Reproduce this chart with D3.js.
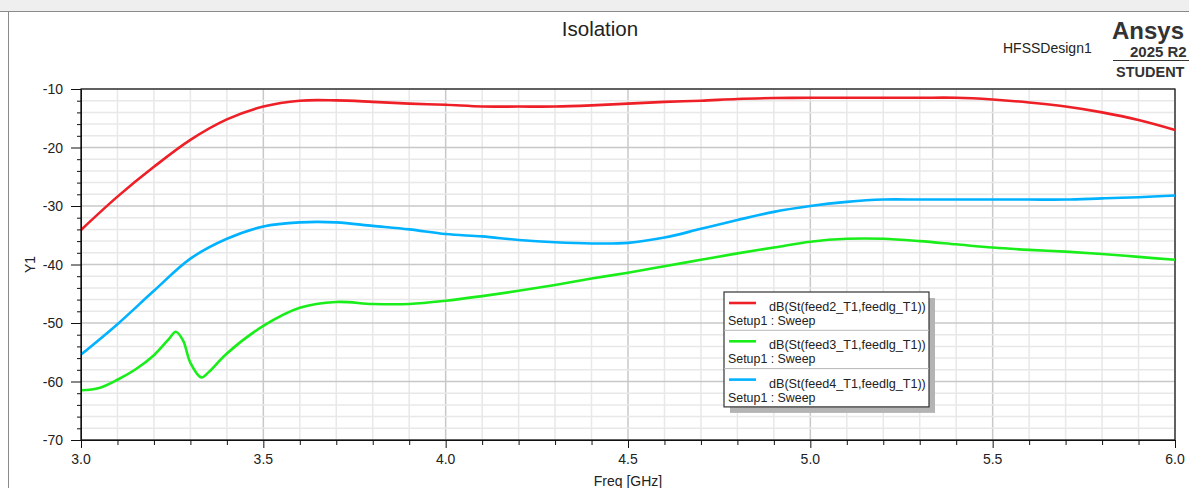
<!DOCTYPE html>
<html>
<head>
<meta charset="utf-8">
<script src="https://cdn.jsdelivr.net/npm/d3@7"></script>
<style>
  body { margin: 0; background: #fff; overflow: hidden; }
  text { font-family: Arial, "Liberation Sans", sans-serif; fill: #222; }
</style>
</head>
<body>
<div id="chart"></div>
<script>
// frequency grid (GHz)
const freqs = [3.0, 3.1, 3.2, 3.3, 3.4, 3.5, 3.6, 3.7, 3.8, 3.9, 4.0, 4.1, 4.2, 4.3, 4.4, 4.5,
  4.6, 4.7, 4.8, 4.9, 5.0, 5.1, 5.2, 5.3, 5.4, 5.5, 5.6, 5.7, 5.8, 5.9, 6.0];

// dB(St(feed2_T1,feedlg_T1))
const feed2 = [-34.1, -28.4, -23.3, -18.7, -15.2, -13.0, -12.0, -11.95, -12.2, -12.5, -12.7, -13.0, -13.0, -13.0, -12.8, -12.5,
  -12.2, -12.0, -11.7, -11.55, -11.5, -11.5, -11.5, -11.5, -11.5, -11.8, -12.3, -13.0, -14.0, -15.3, -17.0];

// dB(St(feed4_T1,feedlg_T1))
const feed4 = [-55.4, -50.2, -44.5, -39.0, -35.6, -33.5, -32.8, -32.8, -33.4, -34.0, -34.8, -35.2, -35.8, -36.2, -36.4, -36.3,
  -35.4, -33.9, -32.4, -31.0, -30.0, -29.3, -28.9, -28.9, -28.9, -28.9, -28.9, -28.9, -28.7, -28.5, -28.2];

// dB(St(feed3_T1,feedlg_T1)) - finer sampling around the dip
const freqs3 = [3.0, 3.05, 3.1, 3.15, 3.2, 3.24, 3.26, 3.28, 3.3, 3.33, 3.35, 3.4, 3.5, 3.6, 3.7, 3.8, 3.9, 4.0,
  4.1, 4.2, 4.3, 4.4, 4.5, 4.6, 4.7, 4.8, 4.9, 5.0, 5.1, 5.2, 5.3, 5.4, 5.5, 5.6, 5.7, 5.8, 5.9, 6.0];
const feed3 = [-61.5, -61.1, -59.7, -57.9, -55.5, -52.8, -51.5, -53.0, -56.8, -59.3, -58.4, -55.2, -50.5, -47.4, -46.4, -46.75, -46.75, -46.2,
  -45.4, -44.5, -43.5, -42.4, -41.4, -40.3, -39.2, -38.1, -37.1, -36.1, -35.6, -35.6, -36.0, -36.55, -37.1, -37.5, -37.8, -38.2, -38.7, -39.2];

const series = [
  {name: "dB(St(feed2_T1,feedlg_T1))", x: freqs, y: feed2, color: "#ee1f26"},
  {name: "dB(St(feed3_T1,feedlg_T1))", x: freqs3, y: feed3, color: "#1aee1a"},
  {name: "dB(St(feed4_T1,feedlg_T1))", x: freqs, y: feed4, color: "#00b2ff"}
];

const xMajor = [3.0, 3.5, 4.0, 4.5, 5.0, 5.5, 6.0];
const yMajor = [-10, -20, -30, -40, -50, -60, -70];

const W = 1189, H = 488;
const margin = {top: 89, right: 14, bottom: 48, left: 81};

const svg = d3.select("#chart").append("svg")
  .attr("width", W).attr("height", H);

// window frame
svg.append("rect").attr("x", 0).attr("y", 0).attr("width", W).attr("height", 11).attr("fill", "#efefef");
svg.append("line").attr("x1", 0).attr("x2", W).attr("y1", 11.5).attr("y2", 11.5).attr("stroke", "#8a8a8a");
svg.append("line").attr("x1", 8.5).attr("x2", 8.5).attr("y1", 11).attr("y2", H).attr("stroke", "#8a8a8a");

const x = d3.scaleLinear().domain([3, 6]).range([margin.left, W - margin.right]);
const y = d3.scaleLinear().domain([-70, -10]).range([H - margin.bottom, margin.top]);

const plot = svg.append("g");

// grid lines
const xMinor = d3.range(30, 61).map(d => d / 10);
const yMinor = d3.range(-70, -9, 2);
plot.selectAll(".gx").data(xMinor).join("line")
  .attr("x1", d => x(d)).attr("x2", d => x(d))
  .attr("y1", y(-70)).attr("y2", y(-10))
  .attr("stroke", d => xMajor.some(m => Math.abs(m - d) < 1e-6) ? "#c8c8c8" : "#e8e8e8")
  .attr("stroke-width", 1.5);
plot.selectAll(".gy").data(yMinor).join("line")
  .attr("x1", x(3)).attr("x2", x(6))
  .attr("y1", d => y(d)).attr("y2", d => y(d))
  .attr("stroke", d => d % 10 === 0 ? "#c8c8c8" : "#e8e8e8")
  .attr("stroke-width", 1.5);

// plot border
plot.append("rect")
  .attr("x", x(3)).attr("y", y(-10))
  .attr("width", x(6) - x(3)).attr("height", y(-70) - y(-10))
  .attr("fill", "none").attr("stroke", "#111").attr("stroke-width", 1.2);

// y axis
const yAxis = svg.append("g").attr("transform", `translate(${x(3)},0)`)
  .call(d3.axisLeft(y).tickValues(yMinor).tickSize(4).tickFormat(""));
yAxis.select(".domain").attr("stroke", "#111");
yAxis.selectAll(".tick line").attr("stroke", "#111")
  .attr("x2", d => d % 10 === 0 ? -10 : -4);
svg.append("g").selectAll("text").data(yMajor).join("text")
  .attr("x", 63).attr("y", d => y(d) + 5)
  .attr("text-anchor", "end").attr("font-size", 14)
  .text(d => d);

// x axis
const xAxis = svg.append("g").attr("transform", `translate(0,${y(-70)})`)
  .call(d3.axisBottom(x).tickValues(xMinor).tickSize(5).tickFormat(""));
xAxis.select(".domain").attr("stroke", "#111");
xAxis.selectAll(".tick line").attr("stroke", "#111")
  .attr("y2", d => xMajor.some(m => Math.abs(m - d) < 1e-6) ? 8 : 5);
svg.append("g").selectAll("text").data(xMajor).join("text")
  .attr("x", d => x(d)).attr("y", 464)
  .attr("text-anchor", "middle").attr("font-size", 14)
  .text(d => d.toFixed(1));

// axis titles
svg.append("text").attr("x", x(4.5)).attr("y", 486)
  .attr("text-anchor", "middle").attr("font-size", 14).text("Freq [GHz]");
svg.append("text").attr("transform", `translate(35,${y(-40)}) rotate(-90)`)
  .attr("text-anchor", "middle").attr("font-size", 14).text("Y1");

// curves
const line = d3.line().curve(d3.curveCatmullRom.alpha(0.5));
series.forEach(s => {
  plot.append("path")
    .attr("d", line(s.x.map((f, i) => [x(f), y(s.y[i])])))
    .attr("fill", "none")
    .attr("stroke", s.color)
    .attr("stroke-width", 2.6);
});

// title + header texts
svg.append("text").attr("x", 600).attr("y", 36).attr("text-anchor", "middle")
  .attr("font-size", 20.5).text("Isolation");
svg.append("text").attr("x", 1003).attr("y", 53).attr("font-size", 14).text("HFSSDesign1");
svg.append("text").attr("x", 1112).attr("y", 39).attr("font-size", 24).attr("font-weight", "bold")
  .style("fill", "#333").text("Ansys");
svg.append("text").attr("x", 1130).attr("y", 57).attr("font-size", 15).attr("font-weight", "bold")
  .style("fill", "#333").text("2025 R2");
svg.append("line").attr("x1", 1113).attr("x2", W).attr("y1", 60.5).attr("y2", 60.5).attr("stroke", "#333");
svg.append("text").attr("x", 1116).attr("y", 77).attr("font-size", 14.5).attr("font-weight", "bold")
  .style("fill", "#333").text("STUDENT");

// legend
const lg = svg.append("g").attr("transform", "translate(724,292)");
const lw = 205, rowH = 38.3;
lg.append("rect").attr("x", 6).attr("y", 6).attr("width", lw).attr("height", rowH * 3)
  .attr("fill", "#b4b4b4");
lg.append("rect").attr("x", 0).attr("y", 0).attr("width", lw).attr("height", rowH * 3)
  .attr("fill", "#fff").attr("stroke", "#333").attr("stroke-width", 1.2);
series.forEach((s, i) => {
  const gy = i * rowH;
  if (i > 0) lg.append("line").attr("x1", 0).attr("x2", lw).attr("y1", gy).attr("y2", gy)
    .attr("stroke", "#b8b8b8");
  lg.append("line").attr("x1", 5).attr("x2", 32).attr("y1", gy + 11).attr("y2", gy + 11)
    .attr("stroke", s.color).attr("stroke-width", 2.6);
  lg.append("text").attr("x", 45).attr("y", gy + 19).attr("font-size", 12.6).text(s.name);
  lg.append("text").attr("x", 4).attr("y", gy + 33).attr("font-size", 12.4).text("Setup1 : Sweep");
});
</script>
</body>
</html>
